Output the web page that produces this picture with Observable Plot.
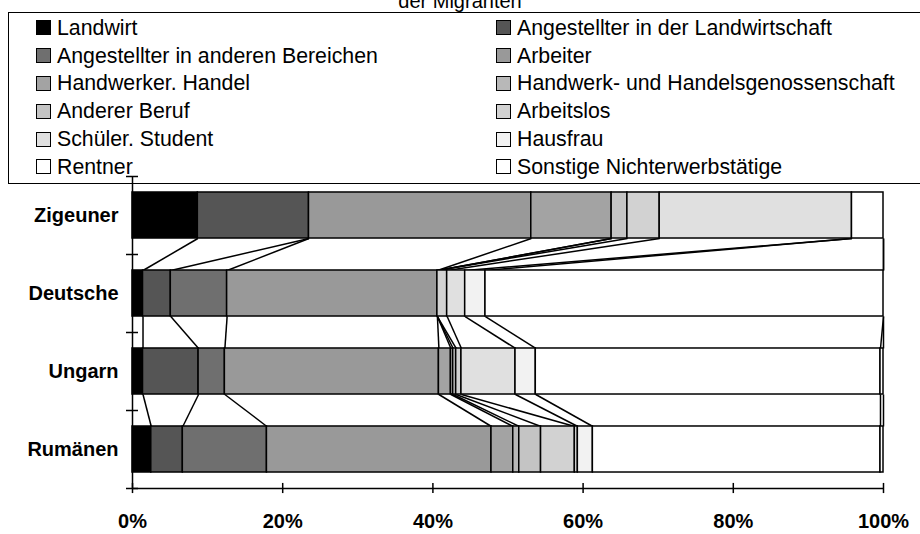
<!DOCTYPE html>
<html>
<head>
<meta charset="utf-8">
<script src="https://cdn.jsdelivr.net/npm/d3@7"></script>
<script src="https://cdn.jsdelivr.net/npm/@observablehq/plot@0.6"></script>
<style>
  html, body { margin: 0; padding: 0; background: #fff; }
  body { width: 920px; height: 534px; overflow: hidden; position: relative; font-family: "Liberation Sans", Arial, sans-serif; }
  #title { position: absolute; left: 0; width: 920px; top: -9px; text-align: center; font-size: 20px; line-height: 20px; color: #000; }
  #legend { position: absolute; left: 8px; top: 12px; width: 930px; height: 172px; border: 1.5px solid #000; box-sizing: border-box; z-index: 2; background: transparent; }
  .sw { position: absolute; width: 15px; height: 15px; border: 1.3px solid #000; box-sizing: border-box; }
  .lt { position: absolute; font-size: 21.3px; line-height: 24px; color: #000; white-space: nowrap; }
  #chart { position: absolute; left: 0; top: 160px; z-index: 1; }
  #chart svg text { font-weight: bold; }
</style>
</head>
<body>
<div id="title">der Migranten</div>
<div id="legend"></div>
<div id="chart"></div>
<script>
// ---- data ----
const categories = ["Zigeuner", "Deutsche", "Ungarn", "Rumänen"];
const seriesNames = [
  "Landwirt",
  "Angestellter in der Landwirtschaft",
  "Angestellter in anderen Bereichen",
  "Arbeiter",
  "Handwerker. Handel",
  "Handwerk- und Handelsgenossenschaft",
  "Anderer Beruf",
  "Arbeitslos",
  "Schüler. Student",
  "Hausfrau",
  "Rentner",
  "Sonstige Nichterwerbstätige"
];
const seriesColors = ["#000000", "#555555", "#6f6f6f", "#999999", "#a3a3a3", "#b8b8b8",
  "#c4c4c4", "#d2d2d2", "#e0e0e0", "#f2f2f2", "#ffffff", "#ffffff"];
// percent shares per series, in the order of seriesNames
const zigeuner = [8.7, 14.8, 0, 29.6, 10.7, 0, 2.1, 4.3, 25.6, 0, 4.2, 0];
const deutsche = [1.4, 3.7, 7.5, 28.0, 0, 0, 0, 1.3, 2.4, 2.7, 53.0, 0];
const ungarn   = [1.4, 7.4, 3.5, 28.5, 1.6, 0.3, 0.4, 0.7, 7.2, 2.7, 45.9, 0.4];
const rumaenen = [2.5, 4.2, 11.2, 29.9, 2.9, 0.8, 2.9, 4.5, 0.4, 2.0, 38.3, 0.4];
const xTickValues = [0, 20, 40, 60, 80, 100];

// ---- derived tables ----
const shares = [zigeuner, deutsche, ungarn, rumaenen];
const H = 0.295; // half bar thickness in category units
const cums = shares.map(vals => { let c = 0; return vals.map(v => (c += v)); });
const segments = [];
shares.forEach((vals, i) => {
  let c = 0;
  vals.forEach((v, k) => {
    if (v > 0) segments.push({cat: i, series: seriesNames[k], x1: c, x2: c + v});
    c += v;
  });
});
const seriesLines = [];
for (let i = 0; i < categories.length - 1; i++) {
  for (let k = 0; k < seriesNames.length; k++) {
    seriesLines.push({x1: cums[i][k], x2: cums[i + 1][k], y1: i + H, y2: i + 1 - H});
  }
}
const yBounds = d3.range(categories.length + 1).map(i => i - 0.5);
const yBottom = categories.length - 0.5;

// ---- legend ----
const legend = document.getElementById("legend");
seriesNames.forEach((name, k) => {
  const col = k % 2, row = Math.floor(k / 2);
  const cy = 26.8 + 27.8 * row - 12;
  const sx = (col === 0 ? 35 : 495) - 8;
  const tx = (col === 0 ? 56 : 516) - 8;
  const sw = document.createElement("div");
  sw.className = "sw";
  sw.style.left = sx + "px";
  sw.style.top = (cy - 7.5) + "px";
  sw.style.background = seriesColors[k];
  legend.appendChild(sw);
  const t = document.createElement("div");
  t.className = "lt";
  t.style.left = tx + "px";
  t.style.top = (cy - 12) + "px";
  t.textContent = name;
  legend.appendChild(t);
});

// ---- chart ----
const chart = Plot.plot({
  width: 920,
  height: 374,
  marginLeft: 132,
  marginRight: 37,
  marginTop: 16,
  marginBottom: 46,
  style: {fontFamily: "'Liberation Sans', Arial, sans-serif", color: "#000", background: "transparent"},
  x: {domain: [0, 100]},
  y: {domain: [-0.5, yBottom], reverse: true},
  color: {domain: seriesNames, range: seriesColors},
  marks: [
    Plot.link(seriesLines, {x1: "x1", y1: "y1", x2: "x2", y2: "y2", stroke: "#000", strokeWidth: 1.5}),
    Plot.rect(segments, {x1: "x1", x2: "x2", y1: d => d.cat - H, y2: d => d.cat + H, fill: "series", stroke: "#000", strokeWidth: 1.5}),
    Plot.ruleX([0], {y1: -0.5, y2: yBottom, stroke: "#000", strokeWidth: 1.5}),
    Plot.ruleY([yBottom], {x1: 0, x2: 100, stroke: "#000", strokeWidth: 1.5}),
    Plot.ruleY(yBounds, {x1: -0.8, x2: 0.8, stroke: "#000", strokeWidth: 1.5}),
    Plot.ruleX(xTickValues, {y1: yBottom - 0.065, y2: yBottom + 0.065, stroke: "#000", strokeWidth: 1.5}),
    Plot.axisX({ticks: xTickValues, tickFormat: d => d + "%", tickSize: 0, tickPadding: 25, fontSize: 20, fontWeight: "bold", label: null}),
    Plot.axisY({ticks: d3.range(categories.length), tickFormat: i => categories[i], tickSize: 0, tickPadding: 14, fontSize: 20, fontWeight: "bold", label: null})
  ]
});
document.getElementById("chart").appendChild(chart);
</script>
</body>
</html>
